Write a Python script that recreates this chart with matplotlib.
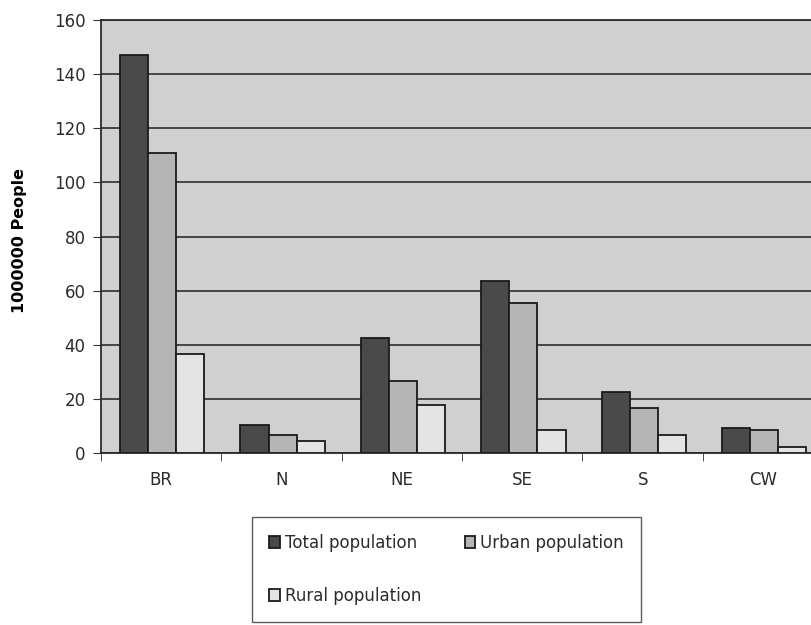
import numpy as np
import matplotlib
matplotlib.use('Agg')
import matplotlib.pyplot as plt

plt.rcParams['font.family'] = ['DejaVu Sans']
plt.rcParams['text.color'] = '#2b2b2b'
plt.rcParams['xtick.labelcolor'] = '#2b2b2b'
plt.rcParams['ytick.labelcolor'] = '#2b2b2b'

# Population by region (million people)
regions = ['BR', 'N', 'NE', 'SE', 'S', 'CW']
total_pop = [147.0, 10.3, 42.5, 63.5, 22.6, 9.4]
urban_pop = [111.0, 6.6, 26.6, 55.4, 16.5, 8.5]
rural_pop = [36.6, 4.4, 17.7, 8.5, 6.6, 2.3]
series_labels = ['Total population', 'Urban population', 'Rural population']
yticks = [0, 20, 40, 60, 80, 100, 120, 140, 160]

fig = plt.figure(figsize=(8.12, 6.25), dpi=100)
ax = fig.add_axes([0.124, 0.275, 0.89, 0.693])

ax.set_facecolor('#d0d0d0')
x = np.arange(len(regions))
w = 0.233
colors = ['#4a4a4a', '#b5b5b5', '#e4e4e4']
bars = []
for i, (vals, col) in enumerate(zip([total_pop, urban_pop, rural_pop], colors)):
    b = ax.bar(x + (i - 1) * w + 0.01, vals, width=w, color=col, edgecolor='#1a1a1a',
               linewidth=1.3, label=series_labels[i], zorder=3)
    bars.append(b)

ax.set_xlim(-0.5, len(regions) - 0.5)
ax.set_ylim(0, 160)
ax.set_yticks(yticks)
ax.yaxis.grid(True, color='#3a3a3a', linewidth=1.3, zorder=1)
ax.set_axisbelow(True)

# category labels at centres, tick marks at group boundaries
ax.set_xticks(x)
ax.set_xticklabels(regions, fontsize=12)
ax.set_xticks(np.arange(len(regions) + 1) - 0.5, minor=True)
ax.tick_params(axis='x', which='major', length=0, pad=13)
ax.tick_params(axis='x', which='minor', length=6, direction='out', color='#333333')
ax.tick_params(axis='y', length=6, labelsize=12, color='#333333', pad=5)

for s in ['left', 'bottom', 'top']:
    ax.spines[s].set_color('#2a2a2a')
    ax.spines[s].set_linewidth(1.3)
ax.spines['right'].set_visible(False)

ax.set_ylabel('1000000 People', fontsize=11.5, fontweight='bold')
ax.yaxis.set_label_coords(-0.102, 0.49)

# order so that row 1 = Total, Urban and row 2 = Rural
order = [0, 2, 1]
leg = fig.legend([bars[k] for k in order], [series_labels[k] for k in order],
                 loc='center', bbox_to_anchor=(0.55, 0.089), ncol=2,
                 fontsize=12, frameon=True, fancybox=False, edgecolor='#333333',
                 handlelength=0.65, handleheight=0.65, handletextpad=0.3,
                 labelspacing=2.1, columnspacing=2.6, borderpad=1.0)
leg.get_frame().set_linewidth(1.0)

fig.savefig('out.png', dpi=100)
